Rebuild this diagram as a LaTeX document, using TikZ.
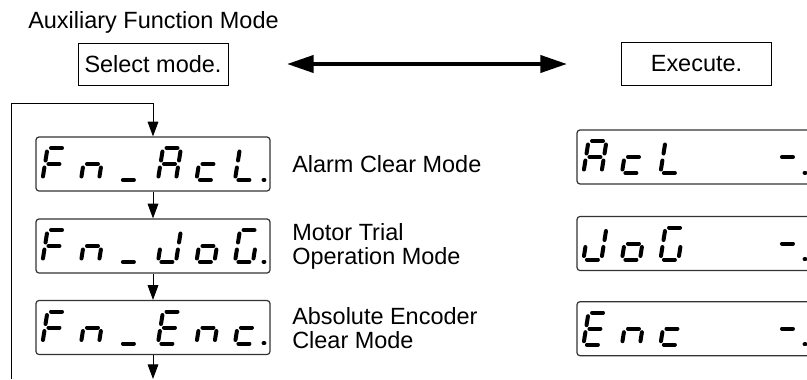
\documentclass[tikz,border=0pt]{standalone}
\usepackage{fontspec}
\setmainfont{Liberation Sans}
\usetikzlibrary{arrows.meta}

\tikzset{
  seg a/.style={insert path={(3.5,-32)--(14.5,-32)}},
  seg b/.style={insert path={(18,-28.5)--(18,-19.5)}},
  seg c/.style={insert path={(18,-12.5)--(18,-3.5)}},
  seg d/.style={insert path={(3.5,0)--(14.5,0)}},
  seg e/.style={insert path={(0,-12.5)--(0,-3.5)}},
  seg f/.style={insert path={(0,-28.5)--(0,-19.5)}},
  seg g/.style={insert path={(3.5,-16)--(14.5,-16)}},
  seg p/.style={insert path={(28.6,-0.3)--(29.4,-0.3)}}
}
% one slanted seven-segment character in display #1, position #2
\newcommand{\lcdchar}[3]{%
  \begin{scope}[shift={(#1.west)},shift={({7+38.5*#2},16)},xslant=0.16]
    \foreach \s in {#3} {\draw[segline,seg \s];}
  \end{scope}}

\begin{document}
\begin{tikzpicture}[x=0.75pt,y=-0.75pt]
\tikzstyle{lcd}=[draw=black!80,line width=0.9pt,rounded corners=2.25pt,minimum width=175.5pt,minimum height=40.5pt,inner sep=0pt]
\tikzstyle{msgbox}=[draw,line width=0.75pt,minimum width=112.5pt,minimum height=32pt,inner sep=0pt,font=\fontsize{17.6}{18}\selectfont]
\tikzstyle{lbl}=[anchor=west,align=left,inner sep=0pt,font=\fontsize{17.6}{18}\selectfont]
\tikzstyle{flow}=[line width=0.75pt,-{Triangle[length=11pt,width=8pt]}]
\tikzstyle{segline}=[line width=3pt,line cap=round]

\useasboundingbox (0,0) rectangle (807,379);
\clip (0,0) rectangle (807,379);

\node[lbl] (title) at (28,22) {Auxiliary Function Mode};
\node[msgbox] (sel) at (153,64.5) {Select mode.};
\node[msgbox] (exe) at (696.5,64) {Execute.};
\coordinate (lft) at (287,64);
\coordinate (rgt) at (567,64);
\draw[line width=3pt,{Triangle[length=20pt,width=12.75pt]}-{Triangle[length=20pt,width=12.75pt]}] (lft) -- (rgt);

% displays
\node[lcd] (fnA) at (153,164) {};
\node[lcd] (fnJ) at (153,246) {};
\node[lcd] (fnE) at (153,327.5) {};
\node[lcd] (exA) at (694,157) {};
\node[lcd] (exJ) at (694,243.5) {};
\node[lcd] (exE) at (694,328.7) {};

\node[lbl] (lblA) at (292,164) {Alarm Clear Mode};
\node[lbl] (lblJ) at (292,246) {Motor Trial\\Operation Mode};
\node[lbl] (lblE) at (292,328) {Absolute Encoder\\Clear Mode};

% Fn_AcL.
\lcdchar{fnA}{0}{a,f,e,g}
\lcdchar{fnA}{1}{c,e,g}
\lcdchar{fnA}{2}{d}
\lcdchar{fnA}{3}{a,b,c,e,f,g}
\lcdchar{fnA}{4}{d,e,g}
\lcdchar{fnA}{5}{f,e,d,p}
% Fn_JoG.
\lcdchar{fnJ}{0}{a,f,e,g}
\lcdchar{fnJ}{1}{c,e,g}
\lcdchar{fnJ}{2}{d}
\lcdchar{fnJ}{3}{b,c,d,e}
\lcdchar{fnJ}{4}{c,d,e,g}
\lcdchar{fnJ}{5}{a,f,e,d,c,p}
% Fn_Enc.
\lcdchar{fnE}{0}{a,f,e,g}
\lcdchar{fnE}{1}{c,e,g}
\lcdchar{fnE}{2}{d}
\lcdchar{fnE}{3}{a,f,g,e,d}
\lcdchar{fnE}{4}{c,e,g}
\lcdchar{fnE}{5}{d,e,g,p}
% AcL  -.
\lcdchar{exA}{0}{a,b,c,e,f,g}
\lcdchar{exA}{1}{d,e,g}
\lcdchar{exA}{2}{f,e,d}
\lcdchar{exA}{5}{g,p}
% JoG  -.
\lcdchar{exJ}{0}{b,c,d,e}
\lcdchar{exJ}{1}{c,d,e,g}
\lcdchar{exJ}{2}{a,f,e,d,c}
\lcdchar{exJ}{5}{g,p}
% Enc  -.
\lcdchar{exE}{0}{a,f,g,e,d}
\lcdchar{exE}{1}{c,e,g}
\lcdchar{exE}{2}{d,e,g}
\lcdchar{exE}{5}{g,p}

% mode loop
\coordinate (out) at (153,379);
\coordinate (back) at (11,379);
\coordinate (turn) at (153,103);
\draw[flow] (fnA) -- (fnJ);
\draw[flow] (fnJ) -- (fnE);
\draw[flow] (fnE) -- (out);
\draw[flow] (back) |- (turn) -- (fnA);
\end{tikzpicture}
\end{document}
